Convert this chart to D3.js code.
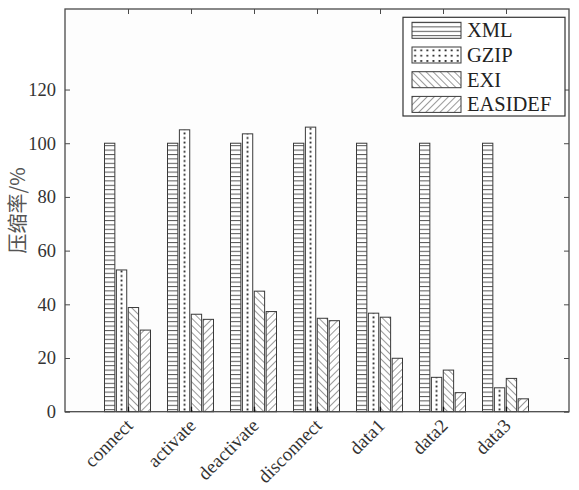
<!DOCTYPE html>
<html>
<head>
<meta charset="utf-8">
<script src="https://cdn.jsdelivr.net/npm/d3@7"></script>
<style>
body { margin: 0; background: #fff; }
text { font-family: "Liberation Serif", "DejaVu Serif", serif; }
</style>
</head>
<body>
<script>
var w = 579;
var h = 490;

var categories = ["connect", "activate", "deactivate", "disconnect", "data1", "data2", "data3"];
var series = ["XML", "GZIP", "EXI", "EASIDEF"];
var xmlValues = [100, 100, 100, 100, 100, 100, 100];
var gzipValues = [52.8, 105, 103.5, 106, 36.7, 12.8, 8.9];
var exiValues = [38.8, 36.3, 44.9, 34.8, 35.2, 15.5, 12.4];
var easidefValues = [30.4, 34.4, 37.3, 33.9, 19.9, 7.1, 4.8];
var yTicks = [0, 20, 40, 60, 80, 100, 120];

var values = [xmlValues, gzipValues, exiValues, easidefValues];
var ink = "#4a4a4a";

var svg = d3.select("body")
    .append("svg")
    .attr("width", w)
    .attr("height", h);

var x = d3.scaleLinear().domain([0, categories.length + 1]).range([65, 569]);
var y = d3.scaleLinear().domain([0, 150]).range([411.7, 9]);
var sub = d3.scaleBand().domain(series).range([-23.5, 22.5]).paddingInner(0.13);

var defs = svg.append("defs");

// horizontal lines
var p = defs.append("pattern").attr("id", "pat-XML")
    .attr("patternUnits", "userSpaceOnUse").attr("width", 8).attr("height", 4.4);
p.append("rect").attr("width", 8).attr("height", 4.4).attr("fill", "#fff");
p.append("line").attr("x1", 0).attr("x2", 8).attr("y1", 0.5).attr("y2", 0.5)
    .attr("stroke", "#555").attr("stroke-width", 1);

// backslash lines
p = defs.append("pattern").attr("id", "pat-EXI")
    .attr("patternUnits", "userSpaceOnUse").attr("width", 5).attr("height", 5)
    .attr("patternTransform", "rotate(-45)");
p.append("rect").attr("width", 5).attr("height", 5).attr("fill", "#fff");
p.append("line").attr("x1", 0).attr("x2", 0).attr("y1", 0).attr("y2", 5)
    .attr("stroke", "#555").attr("stroke-width", 1.2);

// slash lines
p = defs.append("pattern").attr("id", "pat-EASIDEF")
    .attr("patternUnits", "userSpaceOnUse").attr("width", 5).attr("height", 5)
    .attr("patternTransform", "rotate(45)");
p.append("rect").attr("width", 5).attr("height", 5).attr("fill", "#fff");
p.append("line").attr("x1", 0).attr("x2", 0).attr("y1", 0).attr("y2", 5)
    .attr("stroke", "#555").attr("stroke-width", 1.2);

// dots, one pattern per gzip bar so the column sits in the middle
function dotPattern(id, x0, pw) {
    var dp = defs.append("pattern").attr("id", id)
        .attr("patternUnits", "userSpaceOnUse")
        .attr("x", x0).attr("y", y(0))
        .attr("width", pw).attr("height", 4.6);
    dp.append("rect").attr("width", pw).attr("height", 4.6).attr("fill", "#fff");
    dp.append("rect").attr("x", pw / 2 - 0.9).attr("y", 1.4).attr("width", 1.8).attr("height", 1.8).attr("fill", "#222");
}

// plot background
svg.append("rect")
    .attr("x", x(0)).attr("y", y(150))
    .attr("width", x(8) - x(0)).attr("height", y(0) - y(150))
    .attr("fill", "#fdfdfd");

// bars
var barData = [];
categories.forEach(function (c, i) {
    series.forEach(function (s, j) {
        barData.push({ cat: i + 1, name: s, v: values[j][i], id: "bar-" + i + "-" + j });
    });
});

barData.forEach(function (d) {
    if (d.name === "GZIP") {
        dotPattern("dot-" + d.id, x(d.cat) + sub(d.name), sub.bandwidth());
    }
});

svg.selectAll("rect.bar")
    .data(barData)
    .enter()
    .append("rect")
    .attr("class", "bar")
    .attr("x", function (d) { return x(d.cat) + sub(d.name); })
    .attr("y", function (d) { return y(d.v); })
    .attr("width", sub.bandwidth())
    .attr("height", function (d) { return y(0) - y(d.v); })
    .attr("fill", function (d) {
        return d.name === "GZIP" ? "url(#dot-" + d.id + ")" : "url(#pat-" + d.name + ")";
    })
    .attr("stroke", "#3a3a3a")
    .attr("stroke-width", 1);

// box
svg.append("rect")
    .attr("x", x(0)).attr("y", y(150))
    .attr("width", x(8) - x(0)).attr("height", y(0) - y(150))
    .attr("fill", "none").attr("stroke", ink).attr("stroke-width", 1.3);

// y ticks (inside, both sides)
var yAxisL = d3.axisLeft(y).tickValues(yTicks).tickSizeInner(-5).tickSizeOuter(0).tickPadding(9);
var gy = svg.append("g").attr("transform", "translate(" + x(0) + ",0)").call(yAxisL);
gy.select(".domain").remove();
gy.selectAll("line").attr("stroke", ink);
gy.selectAll("text").attr("font-size", 18.5).attr("fill", "#333")
    .attr("font-family", "Liberation Serif");

var yAxisR = d3.axisRight(y).tickValues(yTicks).tickSizeInner(-5).tickSizeOuter(0).tickFormat("");
var gy2 = svg.append("g").attr("transform", "translate(" + x(8) + ",0)").call(yAxisR);
gy2.select(".domain").remove();
gy2.selectAll("line").attr("stroke", ink);

// x ticks (inside, bottom and top)
var catIdx = categories.map(function (c, i) { return i + 1; });
var xAxisB = d3.axisBottom(x).tickValues(catIdx).tickSizeInner(-5).tickSizeOuter(0).tickFormat("");
var gx = svg.append("g").attr("transform", "translate(0," + y(0) + ")").call(xAxisB);
gx.select(".domain").remove();
gx.selectAll("line").attr("stroke", "#111").attr("stroke-width", 1.3);

var xAxisT = d3.axisTop(x).tickValues(catIdx).tickSizeInner(-5).tickSizeOuter(0).tickFormat("");
var gx2 = svg.append("g").attr("transform", "translate(0," + y(150) + ")").call(xAxisT);
gx2.select(".domain").remove();
gx2.selectAll("line").attr("stroke", ink);

// rotated category labels
svg.selectAll("text.cat")
    .data(categories)
    .enter()
    .append("text")
    .attr("class", "cat")
    .attr("transform", function (d, i) {
        return "translate(" + (x(i + 1) + 6) + "," + (y(0) + 15) + ") rotate(-45)";
    })
    .attr("text-anchor", "end")
    .attr("font-size", 19)
    .attr("fill", "#333")
    .text(function (d) { return d; });

// y label
svg.append("text")
    .attr("transform", "translate(25," + ((y(0) + y(150)) / 2) + ") rotate(-90)")
    .attr("text-anchor", "middle")
    .attr("font-size", 20)
    .attr("fill", "#555")
    .style("font-family", "'Noto Sans CJK SC', sans-serif")
    .text("压缩率/%");

// legend
var lg = svg.append("g");
lg.append("rect")
    .attr("x", 403).attr("y", 17.3).attr("width", 162).attr("height", 98.7)
    .attr("fill", "#fff").attr("stroke", "#333").attr("stroke-width", 1.2);

var legendDots = defs.append("pattern").attr("id", "pat-GZIP-lg")
    .attr("patternUnits", "userSpaceOnUse").attr("x", 412).attr("y", 0)
    .attr("width", 6.1).attr("height", 5.3);
legendDots.append("rect").attr("width", 6.1).attr("height", 5.3).attr("fill", "#fff");
legendDots.append("rect").attr("x", 2.2).attr("y", 1.8).attr("width", 1.8).attr("height", 1.8).attr("fill", "#222");

series.forEach(function (s, j) {
    var cy = 30.3 + j * 24.7;
    lg.append("rect")
        .attr("x", 412).attr("y", cy - 8).attr("width", 49).attr("height", 16)
        .attr("fill", s === "GZIP" ? "url(#pat-GZIP-lg)" : "url(#pat-" + s + ")")
        .attr("stroke", "#3a3a3a").attr("stroke-width", 1);
    lg.append("text")
        .attr("x", 467).attr("y", cy + 7)
        .attr("font-size", 20.5)
        .attr("fill", "#222")
        .text(s);
});
</script>
</body>
</html>
